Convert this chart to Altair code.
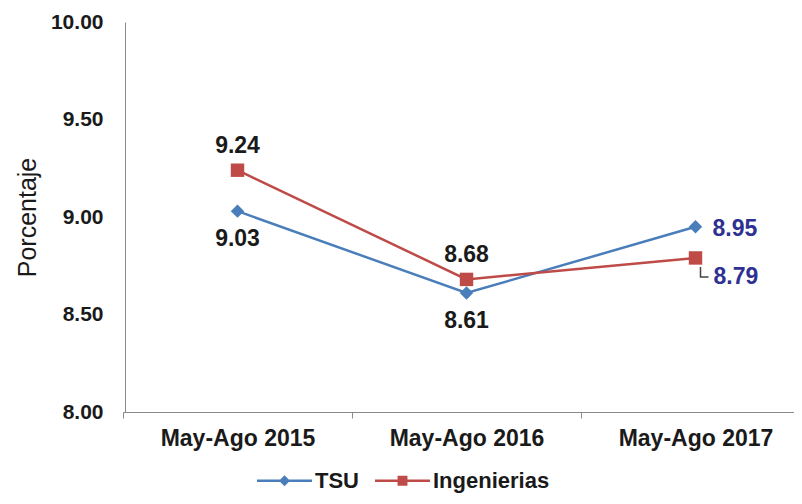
import altair as alt
import pandas as pd

periods = ["May-Ago 2015", "May-Ago 2016", "May-Ago 2017"]
series = ["TSU", "Ingenierias"]
tsu = [9.03, 8.61, 8.95]
ing = [9.24, 8.68, 8.79]
y_ticks = [8.0, 8.5, 9.0, 9.5, 10.0]

rows = []
for name, vals in zip(series, [tsu, ing]):
    for p, v in zip(periods, vals):
        rows.append({"Periodo": p, "Serie": name, "Valor": v, "Etiqueta": f"{v:.2f}"})
df = pd.DataFrame(rows)

BLUE = "#4a7ebb"
RED = "#be4b48"
LBLUE = "#2e3192"
INK = "#1a1a1a"
AXIS = "#8a8a8a"
FONT = "Liberation Sans"

x = alt.X(
    "Periodo:N",
    sort=periods,
    scale=alt.Scale(type="band", paddingInner=0, paddingOuter=0, range=[-2, 685]),
    axis=alt.Axis(
        title=None, labelAngle=0, tickBand="extent", labelFont=FONT, labelFontSize=23,
        labelFontWeight="bold", labelColor=INK, domainColor=AXIS, tickColor=AXIS,
        tickSize=6, labelPadding=9, grid=False,
    ),
)
y = alt.Y(
    "Valor:Q",
    scale=alt.Scale(domain=[8, 10], nice=False, zero=False),
    axis=alt.Axis(
        title="Porcentaje", values=y_ticks, format=".2f", ticks=False, grid=False,
        labelFont=FONT, labelFontSize=21, labelFontWeight="bold", labelColor=INK,
        labelPadding=22, domainColor=AXIS, titleFont=FONT, titleFontSize=25,
        titleFontWeight="normal", titleColor=INK, titlePadding=10,
    ),
)

base = alt.Chart(df).encode(x=x, y=y)
is_tsu = "datum.Serie == 'TSU'"
is_ing = "datum.Serie == 'Ingenierias'"
last = f"datum.Periodo == '{periods[2]}'"

line_tsu = base.transform_filter(is_tsu).mark_line(color=BLUE, strokeWidth=2.5)
line_ing = base.transform_filter(is_ing).mark_line(color=RED, strokeWidth=2.5)
pt_tsu = base.transform_filter(is_tsu).mark_point(shape="diamond", filled=True, size=180, color=BLUE, opacity=1)
pt_ing = base.transform_filter(is_ing).mark_point(shape="square", filled=True, size=180, color=RED, opacity=1)

rect = "M-1,-0.045L1,-0.045L1,0.045L-1,0.045Z"
sym_tsu = rect + "M0,-0.2L0.2,0L0,0.2L-0.2,0Z"
sym_ing = rect + "M-0.18,-0.18L0.18,-0.18L0.18,0.18L-0.18,0.18Z"

leg = alt.Legend(
    title=None, orient="none", legendX=132, legendY=431, direction="horizontal",
    symbolSize=3025, symbolOpacity=1, symbolStrokeWidth=0, labelFont=FONT,
    labelFontSize=22, labelFontWeight="bold", labelColor=INK, labelOffset=3,
    columnPadding=16, padding=0,
)
legend_layer = base.mark_point(filled=True, opacity=0).encode(
    color=alt.Color("Serie:N", scale=alt.Scale(domain=series, range=[BLUE, RED]), legend=leg),
    shape=alt.Shape("Serie:N", scale=alt.Scale(domain=series, range=[sym_tsu, sym_ing]), legend=leg),
)

txt = dict(font=FONT, fontSize=23, fontWeight="bold")
above = base.transform_filter(f"{is_ing} && !({last})").mark_text(dy=-24, color=INK, **txt).encode(text="Etiqueta:N")
below = base.transform_filter(f"{is_tsu} && !({last})").mark_text(dy=28, color=INK, **txt).encode(text="Etiqueta:N")
right_tsu = base.transform_filter(f"{is_tsu} && {last}").mark_text(align="left", dx=17, dy=2, color=LBLUE, **txt).encode(text="Etiqueta:N")
right_ing = base.transform_filter(f"{is_ing} && {last}").mark_text(align="left", dx=18, dy=19, color=LBLUE, **txt).encode(text="Etiqueta:N")
leader = base.transform_filter(f"{is_ing} && {last}").mark_point(
    shape="M0,0L0,1L0.8,1", filled=False, size=400, strokeWidth=1.5, color="#444444",
    opacity=1, xOffset=5, yOffset=9,
)

chart = alt.layer(
    line_tsu, line_ing, pt_tsu, pt_ing, legend_layer, leader, above, below, right_tsu, right_ing
).properties(
    width=669, height=390,
    autosize=alt.AutoSizeParams(type="none"),
    padding={"left": 117, "top": 14, "right": 0, "bottom": 84},
    background="white",
).configure_view(stroke=None)

chart.save("out.html", embed_options={"renderer": "svg", "actions": False})
